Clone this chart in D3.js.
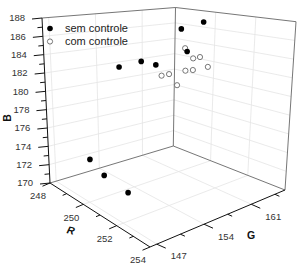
<!DOCTYPE html>
<html>
<head>
<meta charset="utf-8">
<script src="https://cdn.jsdelivr.net/npm/d3@7"></script>
<style>
  body { margin: 0; background: #fff; }
  svg { display: block; font-family: Arial, "Liberation Sans", sans-serif; }
</style>
</head>
<body>
<div id="plot"></div>
<script>
// sem controle (filled)
const semR = [249.2, 250.4, 251.6, 249.8, 249.8, 250.4, 251.0, 251.0, 251.0];
const semG = [149.3, 148.3, 148.8, 152.4, 155.7, 156.2, 158.2, 161.4, 159.1];
const semB = [173.2, 172.9, 172.2, 183.2, 183.4, 183.3, 187.3, 187.7, 184.7];
// com controle (open)
const comR = [251, 251, 251, 251, 251, 251, 251, 251, 251];
const comG = [155.4, 156.5, 157.7, 158.8, 160.0, 161.0, 158.9, 160.0, 162.2];
const comB = [182.6, 182.6, 181.2, 185.1, 183.8, 183.8, 182.6, 182.5, 182.5];

const legendLabels = ["sem controle", "com controle"];
const bTicks = d3.range(170, 189, 1);
const rTicks = d3.range(248, 255, 1);
const gMajor = [147, 154, 161];
const gMinor = [150.5, 157.5, 164.5];

const w = 302;
const h = 270;

const svg = d3.select("div#plot")
    .append("svg")
    .attr("width", w)
    .attr("height", h);

const uScale = d3.scaleLinear().domain([248, 254]).range([0, 1]);
const vScale = d3.scaleLinear().domain([146, 166]).range([0, 1]);
const wScale = d3.scaleLinear().domain([170, 188]).range([0, 1]);

// screen position of the box corners, key = r g b (0 low, 1 high)
const corner = {
  "000": [50, 183], "100": [150, 247], "110": [285, 190], "010": [173.3, 146],
  "001": [42, 18], "101": [151, 52], "111": [296, 21.7], "011": [175.5, 7.5]
};

function project(r, g, b) {
  const a = uScale(r), c = vScale(g), e = wScale(b);
  let x = 0, y = 0;
  for (const i of [0, 1]) for (const j of [0, 1]) for (const k of [0, 1]) {
    const wt = (i ? a : 1 - a) * (j ? c : 1 - c) * (k ? e : 1 - e);
    const p = corner[`${i}${j}${k}`];
    x += wt * p[0];
    y += wt * p[1];
  }
  return [x, y];
}

const line = d3.line();
function seg(g, p1, p2, color, width) {
  g.append("path")
      .attr("d", line([project(...p1), project(...p2)]))
      .attr("fill", "none")
      .attr("stroke", color)
      .attr("stroke-width", width);
}

const [r0, r1] = uScale.domain();
const [g0, g1] = vScale.domain();
const [b0, b1] = wScale.domain();

// grid
const grid = svg.append("g");
const gridColor = "#e4e4e4";
bTicks.filter(b => b % 2 === 0 && b > b0 && b < b1).forEach(b => {
  seg(grid, [r0, g0, b], [r0, g1, b], gridColor, 0.8);
  seg(grid, [r0, g1, b], [r1, g1, b], gridColor, 0.8);
});
gMajor.forEach(g => {
  seg(grid, [r0, g, b0], [r0, g, b1], gridColor, 0.8);
  seg(grid, [r0, g, b0], [r1, g, b0], gridColor, 0.8);
});
rTicks.filter(r => r % 2 === 0 && r > r0 && r < r1).forEach(r => {
  seg(grid, [r, g1, b0], [r, g1, b1], gridColor, 0.8);
  seg(grid, [r, g0, b0], [r, g1, b0], gridColor, 0.8);
});

// box edges
const box = svg.append("g");
const edge = "#666";
seg(box, [r0, g0, b1], [r0, g1, b1], edge, 0.9);
seg(box, [r0, g1, b1], [r1, g1, b1], edge, 0.9);
seg(box, [r0, g1, b0], [r0, g1, b1], edge, 0.9);
seg(box, [r1, g1, b0], [r1, g1, b1], edge, 0.9);
seg(box, [r0, g0, b0], [r0, g1, b0], edge, 0.9);
seg(box, [r0, g1, b0], [r1, g1, b0], edge, 0.9);

// axes
const axes = svg.append("g");
seg(axes, [r0, g0, b0], [r0, g0, b1], "#111", 1);
seg(axes, [r0, g0, b0], [r1, g0, b0], "#111", 1);
seg(axes, [r1, g0, b0], [r1, g1, b0], "#111", 1);

function tick(p, dx, dy) {
  axes.append("line")
      .attr("x1", p[0]).attr("y1", p[1])
      .attr("x2", p[0] + dx).attr("y2", p[1] + dy)
      .attr("stroke", "#111")
      .attr("stroke-width", 1);
}
const labelStyle = sel => sel
    .style("font-size", "9.5px")
    .attr("fill", "#333");

bTicks.forEach(b => {
  const p = project(r0, g0, b);
  const major = b % 2 === 0;
  tick(p, major ? -10 : -5, major ? 1 : 0.5);
  if (major) {
    axes.append("text")
        .attr("x", p[0] - 17)
        .attr("y", p[1])
        .attr("dy", "0.35em")
        .attr("text-anchor", "end")
        .call(labelStyle)
        .text(b);
  }
});

rTicks.forEach(r => {
  const p = project(r, g0, b0);
  const major = r % 2 === 0;
  tick(p, major ? -7.5 : -4, major ? 3.2 : 1.7);
  if (major) {
    axes.append("text")
        .attr("x", p[0] - 12)
        .attr("y", p[1] + 13)
        .attr("dy", "0.35em")
        .attr("text-anchor", "middle")
        .call(labelStyle)
        .text(r);
  }
});

gMajor.concat(gMinor).forEach(g => {
  const p = project(r1, g, b0);
  const major = gMajor.includes(g);
  tick(p, major ? 9 : 4.5, major ? 4 : 2);
  if (major) {
    axes.append("text")
        .attr("x", p[0] + 22)
        .attr("y", p[1] + 12)
        .attr("dy", "0.35em")
        .attr("text-anchor", "middle")
        .call(labelStyle)
        .text(g);
  }
});

// axis titles
svg.append("text")
    .attr("transform", "translate(11,118) rotate(-90)")
    .attr("text-anchor", "middle")
    .style("font-size", "10.5px")
    .style("font-weight", "bold")
    .attr("fill", "#111")
    .text("B");

svg.append("text")
    .attr("transform", "translate(70,234) rotate(14)")
    .attr("text-anchor", "middle")
    .style("font-size", "10.5px")
    .style("font-weight", "bold")
    .style("font-style", "italic")
    .attr("fill", "#111")
    .text("R");

svg.append("text")
    .attr("x", 251)
    .attr("y", 239)
    .attr("text-anchor", "middle")
    .style("font-size", "10.5px")
    .style("font-weight", "bold")
    .attr("fill", "#111")
    .text("G");

// points
const pts = svg.append("g");
pts.selectAll("circle.com")
    .data(comR.map((r, i) => project(r, comG[i], comB[i])))
    .enter().append("circle")
    .attr("class", "com")
    .attr("cx", d => d[0])
    .attr("cy", d => d[1])
    .attr("r", 2.6)
    .attr("fill", "#fff")
    .attr("stroke", "#555")
    .attr("stroke-width", 0.8);

pts.selectAll("circle.sem")
    .data(semR.map((r, i) => project(r, semG[i], semB[i])))
    .enter().append("circle")
    .attr("class", "sem")
    .attr("cx", d => d[0])
    .attr("cy", d => d[1])
    .attr("r", 2.8)
    .attr("fill", "#000");

// legend
const legend = svg.append("g");
legendLabels.forEach((lab, i) => {
  const y = 28.5 + i * 13;
  legend.append("circle")
      .attr("cx", 50)
      .attr("cy", y)
      .attr("r", i === 0 ? 2.8 : 2.6)
      .attr("fill", i === 0 ? "#000" : "#fff")
      .attr("stroke", i === 0 ? "none" : "#555")
      .attr("stroke-width", 0.8);
  legend.append("text")
      .attr("x", 65)
      .attr("y", y)
      .attr("dy", "0.35em")
      .style("font-size", "11px")
      .attr("fill", "#222")
      .text(lab);
});
</script>
</body>
</html>
